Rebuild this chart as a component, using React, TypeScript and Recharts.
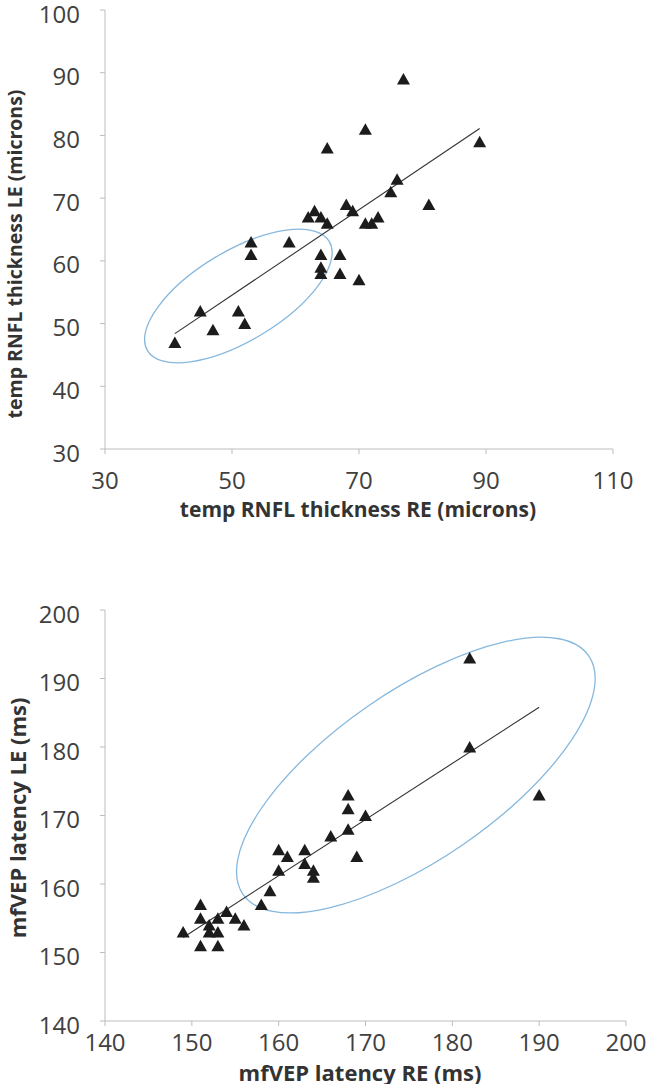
import React from 'react';
import { ScatterChart, Scatter, XAxis, YAxis } from 'recharts';

// ---------- Chart 1: temporal RNFL thickness ----------
const rnflRE = [77, 71, 65, 89, 76, 75, 81, 68, 69, 63, 62, 64, 65, 71, 72, 73, 53, 53, 59, 64, 67, 64, 64, 67, 70, 45, 51, 52, 47, 41];
const rnflLE = [89, 81, 78, 79, 73, 71, 69, 69, 68, 68, 67, 67, 66, 66, 66, 67, 63, 61, 63, 61, 61, 59, 58, 58, 57, 52, 52, 50, 49, 47];
const rnflTrendX = [41, 89];
const rnflTrendY = [48.4, 81.1];
const rnflEllipseCenter = [{ x: 51, y: 54.4 }];
const rnflXTicks = [30, 50, 70, 90, 110];
const rnflYTicks = [30, 40, 50, 60, 70, 80, 90, 100];

// ---------- Chart 2: mfVEP latency ----------
const latRE = [182, 182, 190, 168, 168, 170, 168, 166, 160, 161, 163, 163, 169, 160, 164, 164, 159, 158, 151, 154, 151, 153, 155, 156, 152, 152, 153, 149, 151, 153];
const latLE = [193, 180, 173, 173, 171, 170, 168, 167, 165, 164, 165, 163, 164, 162, 162, 161, 159, 157, 157, 156, 155, 155, 155, 154, 154, 153, 153, 153, 151, 151];
const latTrendX = [149, 190];
const latTrendY = [152.2, 185.8];
const latEllipseCenter = [{ x: 175.8, y: 175.9 }];
const latXTicks = [140, 150, 160, 170, 180, 190, 200];
const latYTicks = [140, 150, 160, 170, 180, 190, 200];

const zip = (xs: number[], ys: number[]) => xs.map((x, i) => ({ x, y: ys[i] }));

const rnflData = zip(rnflRE, rnflLE);
const rnflTrend = zip(rnflTrendX, rnflTrendY);
const latData = zip(latRE, latLE);
const latTrend = zip(latTrendX, latTrendY);

const FONT = '"Open Sans", "DejaVu Sans", sans-serif';
const AXIS_COLOR = '#bdbdbd';
const TICK_COLOR = '#404040';

const Triangle = (props: any) => {
  const { cx, cy } = props;
  if (cx == null || cy == null) return <g />;
  const d = `M${cx},${cy - 6} L${cx + 6.5},${cy + 5.5} L${cx - 6.5},${cy + 5.5} Z`;
  return <path d={d} fill="#1c1c1c" />;
};

const makeEllipse = (rx: number, ry: number, angle: number) => (props: any) => {
  const { cx, cy } = props;
  if (cx == null || cy == null) return <g />;
  return (
    <ellipse
      cx={cx}
      cy={cy}
      rx={rx}
      ry={ry}
      transform={`rotate(${-angle} ${cx} ${cy})`}
      fill="none"
      stroke="#86b8de"
      strokeWidth={1.3}
    />
  );
};

const NoShape = () => <g />;

const YTick = (props: any) => {
  const { x, y, payload } = props;
  return (
    <text x={x} y={y + 3} textAnchor="end" dominantBaseline="central" fontFamily={FONT} fontSize={24} fill={TICK_COLOR}>
      {payload.value}
    </text>
  );
};

const XTick = (props: any) => {
  const { x, y, payload } = props;
  return (
    <text x={x} y={y} dy="0.71em" textAnchor="middle" fontFamily={FONT} fontSize={24} fill={TICK_COLOR}>
      {payload.value}
    </text>
  );
};

const YTitle = (props: any) => {
  const { text, titleX, titleY, fsize } = props;
  return (
    <text
      transform={`translate(${titleX}, ${titleY}) rotate(-90)`}
      textAnchor="middle"
      dominantBaseline="central"
      fontFamily={FONT}
      fontWeight="bold"
      fontSize={fsize}
      fill="#333"
    >
      {text}
    </text>
  );
};

const XTitle = (props: any) => {
  const { text, titleX, titleY, fsize } = props;
  return (
    <text
      x={titleX}
      y={titleY}
      textAnchor="middle"
      dominantBaseline="central"
      fontFamily={FONT}
      fontWeight="bold"
      fontSize={fsize}
      fill="#333"
    >
      {text}
    </text>
  );
};

export default function App() {
  return (
    <div style={{ position: 'absolute', left: 0, top: 0, width: 653, height: 1084, background: '#fff' }}>
      <div style={{ position: 'absolute', left: 0, top: 0 }}>
        <ScatterChart width={653} height={540} margin={{ top: 10, right: 40, left: 25, bottom: 21 }}>
          <XAxis
            type="number"
            dataKey="x"
            domain={[30, 110]}
            ticks={rnflXTicks}
            allowDataOverflow
            height={70}
            tick={<XTick />}
            tickSize={5}
            tickMargin={18}
            axisLine={{ stroke: AXIS_COLOR }}
            tickLine={{ stroke: AXIS_COLOR }}
            label={<XTitle text="temp RNFL thickness RE (microns)" titleX={358} titleY={509} fsize={21} />}
          />
          <YAxis
            type="number"
            dataKey="y"
            domain={[30, 100]}
            ticks={rnflYTicks}
            allowDataOverflow
            width={80}
            tick={<YTick />}
            tickSize={5}
            tickMargin={20}
            axisLine={{ stroke: AXIS_COLOR }}
            tickLine={{ stroke: AXIS_COLOR }}
            label={<YTitle text="temp RNFL thickness LE (microns)" titleX={14} titleY={254} fsize={19.5} />}
          />
          <Scatter data={rnflEllipseCenter} shape={makeEllipse(106, 45, 31)} isAnimationActive={false} />
          <Scatter data={rnflTrend} line={{ stroke: '#333', strokeWidth: 1.1 }} shape={NoShape} isAnimationActive={false} />
          <Scatter data={rnflData} shape={Triangle} isAnimationActive={false} />
        </ScatterChart>
      </div>
      <div style={{ position: 'absolute', left: 0, top: 540 }}>
        <ScatterChart width={653} height={544} margin={{ top: 70, right: 27, left: 25, bottom: 3 }}>
          <XAxis
            type="number"
            dataKey="x"
            domain={[140, 200]}
            ticks={latXTicks}
            allowDataOverflow
            height={60}
            tick={<XTick />}
            tickSize={5}
            tickMargin={8}
            axisLine={{ stroke: AXIS_COLOR }}
            tickLine={{ stroke: AXIS_COLOR }}
            label={<XTitle text="mfVEP latency RE (ms)" titleX={360} titleY={532} fsize={22} />}
          />
          <YAxis
            type="number"
            dataKey="y"
            domain={[140, 200]}
            ticks={latYTicks}
            allowDataOverflow
            width={80}
            tick={<YTick />}
            tickSize={5}
            tickMargin={20}
            axisLine={{ stroke: AXIS_COLOR }}
            tickLine={{ stroke: AXIS_COLOR }}
            label={<YTitle text="mfVEP latency LE (ms)" titleX={17} titleY={278} fsize={22} />}
          />
          <Scatter data={latEllipseCenter} shape={makeEllipse(210, 84, 34.6)} isAnimationActive={false} />
          <Scatter data={latTrend} line={{ stroke: '#333', strokeWidth: 1.1 }} shape={NoShape} isAnimationActive={false} />
          <Scatter data={latData} shape={Triangle} isAnimationActive={false} />
        </ScatterChart>
      </div>
    </div>
  );
}
